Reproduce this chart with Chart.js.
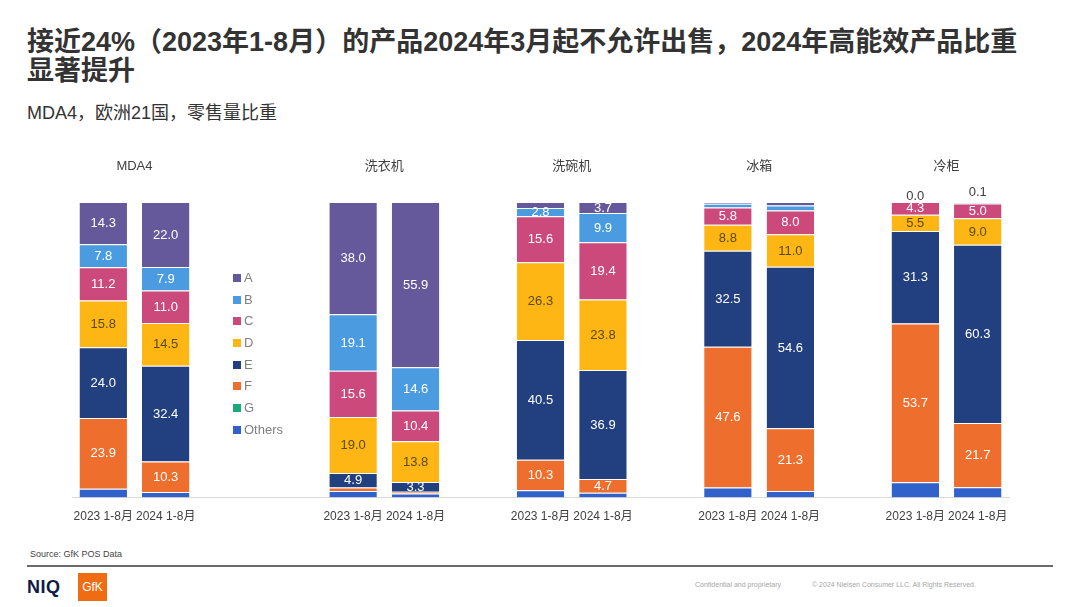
<!DOCTYPE html>
<html>
<head>
<meta charset="utf-8">
<script src="https://cdn.jsdelivr.net/npm/chart.js@4/dist/chart.umd.min.js"></script>
<style>
  body { margin: 0; width: 1080px; height: 607px; background: #fff; position: relative; overflow: hidden;
         font-family: "Liberation Sans", "Noto Sans CJK SC", sans-serif; }
  .title { position: absolute; left: 27px; top: 28px; width: 1050px; font-size: 27px; line-height: 29px;
           font-weight: bold; color: #333; font-family: "Liberation Sans", "Noto Sans CJK SC", sans-serif; }
  .subtitle { position: absolute; left: 27px; top: 98px; font-size: 18px; color: #333; }
  #chart-wrap { position: absolute; left: 0; top: 140px; width: 1080px; height: 400px; }
  #legend { position: absolute; left: 233px; top: 267px; }
  .lg-item { height: 21.7px; line-height: 21.7px; font-size: 13px; color: #7f7f7f; white-space: nowrap; }
  .lg-box { display: inline-block; width: 8px; height: 8px; margin-right: 3px; vertical-align: 0px; }
  .source { position: absolute; left: 30px; top: 549px; font-size: 9px; color: #444; }
  .rule { position: absolute; left: 27px; top: 565px; width: 1026px; height: 2px; background: #6b6b6b; }
  .niq { position: absolute; left: 27px; top: 577px; font-size: 18px; font-weight: bold; color: #111b45; letter-spacing: 0.5px; }
  .gfk { position: absolute; left: 78px; top: 573px; width: 29px; height: 28px; background: #ef6c12; color: #fff;
         font-size: 12px; line-height: 28px; text-align: center; }
  .foot { position: absolute; top: 581px; font-size: 7px; color: #a6a6a6; }
</style>
</head>
<body>
<div class="title">接近24%（2023年1-8月）的产品2024年3月起不允许出售，2024年高能效产品比重<br>显著提升</div>
<div class="subtitle">MDA4，欧洲21国，零售量比重</div>
<div id="chart-wrap"><canvas id="chart"></canvas></div>
<div id="legend"></div>
<div class="source">Source: GfK POS Data</div>
<div class="rule"></div>
<div class="niq">NIQ</div>
<div class="gfk">GfK</div>
<div class="foot" style="left:695px">Confidential and proprietary</div>
<div class="foot" style="left:812px">© 2024 Nielsen Consumer LLC. All Rights Reserved.</div>

<script>
// groups and periods, each group shows two bars
const groups = ['MDA4', '洗衣机', '洗碗机', '冰箱', '冷柜'];
const periods = ['2023 1-8月', '2024 1-8月'];
// empty slots between groups (after each group)
const gapsAfter = [2, 1, 1, 1, 0];

// shares per bar, order: MDA4 23/24, 洗衣机 23/24, 洗碗机 23/24, 冰箱 23/24, 冷柜 23/24
const seriesA = [14.3, 22.0, 38.0, 55.9, 2.0, 3.7, 0.6, 1.2, 0.0, 0.1];
const seriesB = [7.8, 7.9, 19.1, 14.6, 2.8, 9.9, 1.3, 1.7, 0.0, 0.4];
const seriesC = [11.2, 11.0, 15.6, 10.4, 15.6, 19.4, 5.8, 8.0, 4.3, 5.0];
const seriesD = [15.8, 14.5, 19.0, 13.8, 26.3, 23.8, 8.8, 11.0, 5.5, 9.0];
const seriesE = [24.0, 32.4, 4.9, 3.3, 40.5, 36.9, 32.5, 54.6, 31.3, 60.3];
const seriesF = [23.9, 10.3, 1.2, 0.6, 10.3, 4.7, 47.6, 21.3, 53.7, 21.7];
const seriesG = [0, 0, 0, 0, 0, 0, 0, 0, 0, 0];
const seriesOthers = [3.0, 1.9, 2.2, 1.4, 2.5, 1.6, 3.4, 2.2, 5.2, 3.5];

const seriesNames = ['A', 'B', 'C', 'D', 'E', 'F', 'G', 'Others'];
const seriesColors = ['#65589b', '#4a9be0', '#cc4a7b', '#fdb614', '#22407f', '#ee6f2d', '#1da77a', '#3162cc'];

// build slot labels (with blanks for the gaps)
const slotLabels = [];
const slotIndex = [];      // slot -> bar index or -1
const groupSlots = [];     // group -> [slot23, slot24]
groups.forEach((g, gi) => {
    const pair = [];
    periods.forEach((p, pi) => {
        pair.push(slotLabels.length);
        slotLabels.push(p);
        slotIndex.push(gi * periods.length + pi);
    });
    groupSlots.push(pair);
    for (let k = 0; k < gapsAfter[gi]; k++) {
        slotLabels.push('');
        slotIndex.push(-1);
    }
});

const toSlots = (arr) => slotIndex.map(i => i < 0 ? null : arr[i]);
const allSeries = [seriesA, seriesB, seriesC, seriesD, seriesE, seriesF, seriesG, seriesOthers];

// stack bottom-up: Others first, A on top
const datasets = seriesNames.map((name, i) => ({
    label: name,
    data: toSlots(allSeries[i]),
    backgroundColor: seriesColors[i],
    borderColor: '#ffffff',
    borderWidth: { top: 1, bottom: 0, left: 0, right: 0 },
    borderSkipped: false,
    barPercentage: 0.76,
    categoryPercentage: 1.0
})).reverse();

const FONT = '"Liberation Sans", "Noto Sans CJK SC", sans-serif';

// value labels inside segments + group titles
const labelPlugin = {
    id: 'segLabels',
    afterDatasetsDraw(chart) {
        const ctx = chart.ctx;
        ctx.save();
        ctx.textAlign = 'center';
        ctx.textBaseline = 'middle';
        ctx.font = '13px ' + FONT;
        chart.data.datasets.forEach((ds, di) => {
            const meta = chart.getDatasetMeta(di);
            if (ds.label === 'G' || ds.label === 'Others') return;
            meta.data.forEach((bar, si) => {
                const v = ds.data[si];
                if (v === null || v === undefined) return;
                const gi = Math.floor(slotIndex[si] / periods.length);
                const txt = v.toFixed(1);
                if (ds.label === 'A' && groups[gi] === '冷柜') {
                    ctx.fillStyle = '#404040';
                    ctx.fillText(txt, bar.x, bar.y - 10 + (si % 2) * 4);
                    return;
                }
                if (v < 2.5) return;
                ctx.fillStyle = ds.label === 'D' ? '#5a4a14' : '#ffffff';
                ctx.fillText(txt, bar.x, (bar.y + bar.base) / 2 + 0.5);
            });
        });
        // group titles
        const xs = chart.scales.x;
        ctx.font = '13px ' + FONT;
        ctx.fillStyle = '#404040';
        groups.forEach((g, gi) => {
            const [s0, s1] = groupSlots[gi];
            const cx = (xs.getPixelForValue(s0) + xs.getPixelForValue(s1)) / 2;
            ctx.fillText(g, cx, 166 - 140);
        });
        ctx.restore();
    }
};

const chart = new Chart(document.getElementById('chart'), {
    type: 'bar',
    data: { labels: slotLabels, datasets: datasets },
    options: {
        responsive: true,
        maintainAspectRatio: false,
        animation: false,
        layout: { padding: { top: 62, left: 72, right: 71, bottom: 4 } },
        plugins: {
            legend: { display: false },
            tooltip: { enabled: false }
        },
        scales: {
            x: {
                stacked: true,
                grid: { display: false, drawTicks: false },
                border: { display: true, color: '#d9d9d9', width: 1 },
                ticks: { color: '#404040', font: { family: FONT, size: 12 }, padding: 12, autoSkip: false, maxRotation: 0 }
            },
            y: {
                stacked: true,
                display: false,
                min: 0,
                max: 100
            }
        }
    },
    plugins: [labelPlugin]
});

// html legend, A on top
const legendEl = document.getElementById('legend');
seriesNames.forEach((name, i) => {
    const item = document.createElement('div');
    item.className = 'lg-item';
    item.innerHTML = `<span class="lg-box" style="background:${seriesColors[i]}"></span>${name}`;
    legendEl.appendChild(item);
});
</script>
</body>
</html>
